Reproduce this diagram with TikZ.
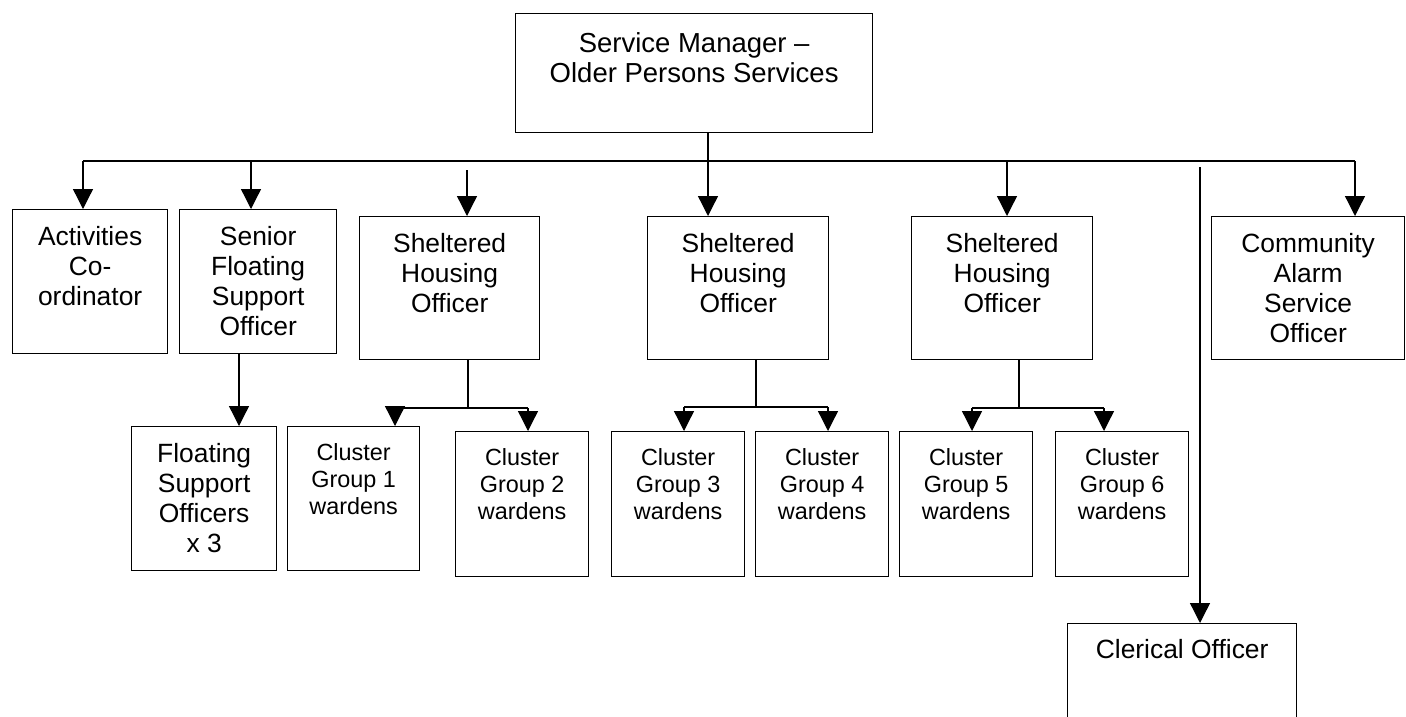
\documentclass[tikz,border=0pt]{standalone}
\usepackage{fontspec}
\setmainfont{Liberation Sans}
\usetikzlibrary{arrows.meta}
\begin{document}
\begin{tikzpicture}[x=1pt,y=-1pt,
  box/.style={draw, line width=1.3pt, inner sep=0pt, anchor=north west},
  txt/.style={anchor=north, inner sep=0pt, align=center, font=\fontsize{26.4}{30}\selectfont},
  ctxt/.style={anchor=north, inner sep=0pt, align=center, font=\fontsize{23.4}{27}\selectfont},
  line/.style={line width=1.3pt},
  arr/.style={line width=1.3pt, -{Triangle[width=20pt,length=20pt]}}]
\clip (0,0) rectangle (1406,716);
\fill[white] (0,0) rectangle (1406,716);
% boxes
\node[box, minimum width=357pt, minimum height=119pt] (mgr) at (515,13) {};
\node[box, minimum width=155pt, minimum height=144pt] (act) at (12,209) {};
\node[box, minimum width=157pt, minimum height=144pt] (sen) at (179,209) {};
\node[box, minimum width=180pt, minimum height=143pt] (sho1) at (359,216) {};
\node[box, minimum width=181pt, minimum height=143pt] (sho2) at (647,216) {};
\node[box, minimum width=181pt, minimum height=143pt] (sho3) at (911,216) {};
\node[box, minimum width=193pt, minimum height=143pt] (com) at (1211,216) {};
\node[box, minimum width=145pt, minimum height=144pt] (fso) at (131,426) {};
\node[box, minimum width=132pt, minimum height=144pt] (cg1) at (287,426) {};
\node[box, minimum width=133pt, minimum height=145pt] (cg2) at (455,431) {};
\node[box, minimum width=133pt, minimum height=145pt] (cg3) at (611,431) {};
\node[box, minimum width=133pt, minimum height=145pt] (cg4) at (755,431) {};
\node[box, minimum width=133pt, minimum height=145pt] (cg5) at (899,431) {};
\node[box, minimum width=133pt, minimum height=145pt] (cg6) at (1055,431) {};
\node[box, minimum width=229pt, minimum height=140pt] (cler) at (1067,623) {};
% texts
\node[txt, font=\fontsize{27.5}{30}\selectfont] (mgrt) at ([yshift=-19pt]mgr.north) {Service Manager –\\Older Persons Services};
\node[txt] (actt) at ([yshift=-17pt]act.north) {Activities\\Co-\\ordinator};
\node[txt] (sent) at ([yshift=-17pt]sen.north) {Senior\\Floating\\Support\\Officer};
\node[txt] (sho1t) at ([yshift=-17pt]sho1.north) {Sheltered\\Housing\\Officer};
\node[txt] (sho2t) at ([yshift=-17pt]sho2.north) {Sheltered\\Housing\\Officer};
\node[txt] (sho3t) at ([yshift=-17pt]sho3.north) {Sheltered\\Housing\\Officer};
\node[txt] (comt) at ([yshift=-17pt]com.north) {Community\\Alarm\\Service\\Officer};
\node[txt] (fsot) at ([yshift=-17pt]fso.north) {Floating\\Support\\Officers\\x 3};
\node[ctxt] (cg1t) at ([yshift=-17pt]cg1.north) {Cluster\\Group 1\\wardens};
\node[ctxt] (cg2t) at ([yshift=-17pt]cg2.north) {Cluster\\Group 2\\wardens};
\node[ctxt] (cg3t) at ([yshift=-17pt]cg3.north) {Cluster\\Group 3\\wardens};
\node[ctxt] (cg4t) at ([yshift=-17pt]cg4.north) {Cluster\\Group 4\\wardens};
\node[ctxt] (cg5t) at ([yshift=-17pt]cg5.north) {Cluster\\Group 5\\wardens};
\node[ctxt] (cg6t) at ([yshift=-17pt]cg6.north) {Cluster\\Group 6\\wardens};
\node[txt] (clert) at ([yshift=-16pt]cler.north) {Clerical Officer};
% bus coordinates
\coordinate (bA) at (83,161);
\coordinate (bS) at (251,161);
\coordinate (bH1) at (467,170);
\coordinate (bM) at (708,161);
\coordinate (bH3) at (1007,161);
\coordinate (bL) at (1200,167);
\coordinate (bC) at (1355,161);
\coordinate (dS) at (239,353);
\coordinate (j1) at (468,408);
\coordinate (j2) at (756,407);
\coordinate (j3) at (1019,408);
\coordinate (a1) at (395,408);
\coordinate (a2) at (528,408);
\coordinate (a3) at (684,407);
\coordinate (a4) at (828,407);
\coordinate (a5) at (972,408);
\coordinate (a6) at (1104,408);
% main bus
\draw[line] (bA) -- (bC);
\draw[line width=2.2pt] (119,161) -- (239,161);
\draw[arr] (bM |- mgr.south) -- (bM |- sho2.north);
\draw[arr] (bA) -- (bA |- act.north);
\draw[arr] (bS) -- (bS |- sen.north);
\draw[arr] (bH1) -- (bH1 |- sho1.north);
\draw[arr] (bH3) -- (bH3 |- sho3.north);
\draw[arr] (bC) -- (bC |- com.north);
\draw[arr] (bL) -- (bL |- cler.north);
% second level
\draw[arr] (dS) -- (dS |- fso.north);
\draw[line] (j1 |- sho1.south) -- (j1);
\draw[line] (a1) -- (a2);
\draw[arr] (a1) -- (a1 |- cg1.north);
\draw[arr] (a2) -- (a2 |- cg2.north);
\draw[line] (j2 |- sho2.south) -- (j2);
\draw[line] (a3) -- (a4);
\draw[arr] (a3) -- (a3 |- cg3.north);
\draw[arr] (a4) -- (a4 |- cg4.north);
\draw[line] (j3 |- sho3.south) -- (j3);
\draw[line] (a5) -- (a6);
\draw[arr] (a5) -- (a5 |- cg5.north);
\draw[arr] (a6) -- (a6 |- cg6.north);
\end{tikzpicture}
\end{document}
